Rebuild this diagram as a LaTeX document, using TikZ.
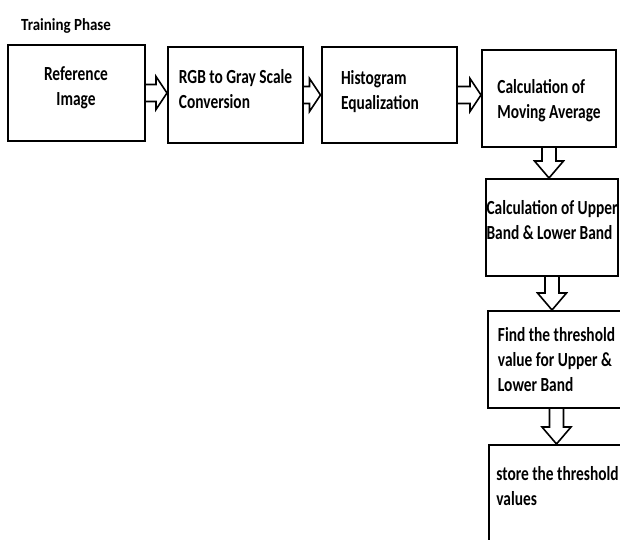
\documentclass[tikz,border=0pt]{standalone}
\usepackage{fontspec}
\setmainfont{Carlito}
\usetikzlibrary{calc}
\tikzset{
 stage/.style={draw=black, line width=2pt, minimum width=135pt, minimum height=96pt, inner sep=0pt, align=left, font=\fontsize{20}{25}\selectfont\bfseries\addfontfeature{FakeStretch=0.77}},
 rightarr/.style={line width=1.6pt, line join=miter, to path={($(\tikztostart)+(0,-8.5)$) -- ($(\tikztotarget)+(-11,-8.5)$) -- ($(\tikztotarget)+(-11,-16.5)$) -- (\tikztotarget) -- ($(\tikztotarget)+(-11,16.5)$) -- ($(\tikztotarget)+(-11,8.5)$) -- ($(\tikztostart)+(0,8.5)$)}},
 downarr/.style={line width=1.6pt, line join=miter, to path={($(\tikztostart)+(-7,0)$) -- ($(\tikztotarget)+(-7,-17)$) -- ($(\tikztotarget)+(-14.5,-17)$) -- (\tikztotarget) -- ($(\tikztotarget)+(14.5,-17)$) -- ($(\tikztotarget)+(7,-17)$) -- ($(\tikztostart)+(7,0)$)}}
}
\begin{document}
\begin{tikzpicture}[x=1pt,y=-1pt]
\useasboundingbox (0,0) rectangle (620,539);
\clip (0,0) rectangle (620,539);
\node[font=\fontsize{17}{20}\selectfont\bfseries\addfontfeature{FakeStretch=0.88}, anchor=base west, inner sep=0pt] (phase) at (21,30) {Training Phase};
\node[stage, minimum width=137pt, align=center, text depth=13pt] (refimg) at (76,93) {Reference\\Image};
\node[stage, text depth=12pt] (gray) at (235.5,95) {RGB to Gray Scale\\Conversion};
\node[stage, text width=96pt, text depth=35pt] (histeq) at (389,95) {Histogram\\Equalization};
\node[stage, minimum width=134pt, minimum height=97pt, text depth=0pt] (movavg) at (549,98.5) {Calculation of\\Moving Average};
\node[stage, minimum width=132pt, minimum height=97pt, text depth=15pt] (bands) at (552,227.5) {Calculation of Upper\\Band \& Lower Band};
\node[stage, minimum width=137pt, minimum height=97pt] (thresh) at (556.5,359.5) {Find the threshold\\value for Upper \&\\Lower Band};
\node[stage, minimum width=137pt, minimum height=97pt, text depth=16pt] (store) at (557.5,493.5) {store the threshold\\values};
\draw[rightarr] (refimg.east) to (refimg.east -| gray.west);
\draw[rightarr] (gray.east) to (gray.east -| histeq.west);
\draw[rightarr] (histeq.east) to (histeq.east -| movavg.west);
\draw[downarr] (movavg.south) to (movavg.south |- bands.north);
\draw[downarr] (bands.south) to (bands.south |- thresh.north);
\draw[downarr] (thresh.south) to (thresh.south |- store.north);
\end{tikzpicture}
\end{document}
